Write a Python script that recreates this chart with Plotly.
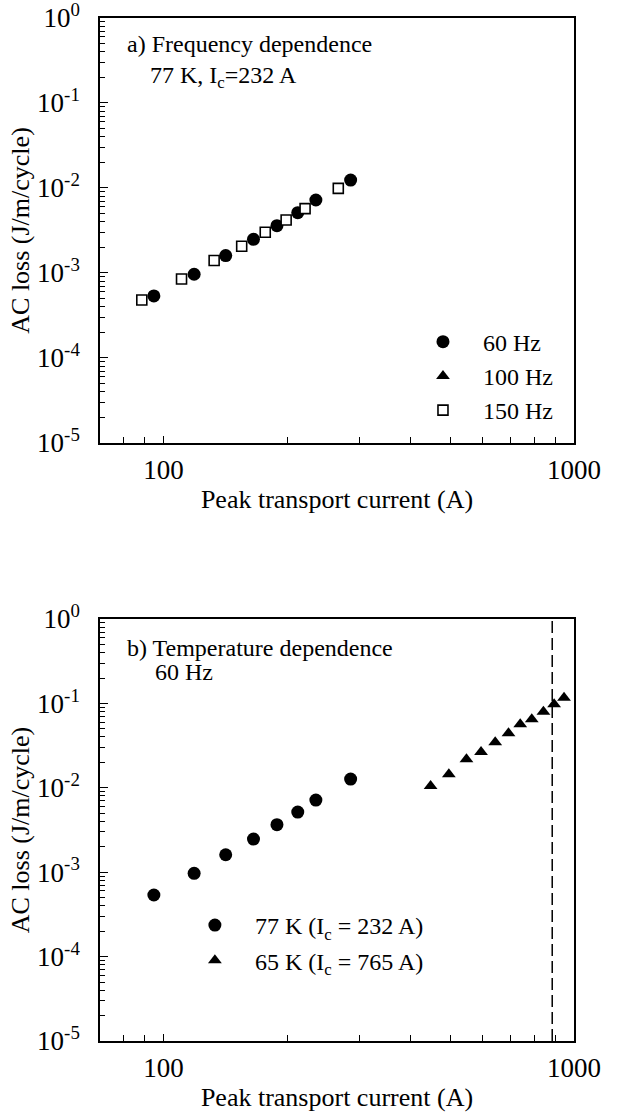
import math
import plotly.graph_objects as go

# ---------------- data ----------------
# (a) frequency dependence, 77 K
i_60hz = [94.7, 118.7, 141.7, 165.6, 188.9, 212.3, 235.0, 285.6]
loss_60hz = [5.37e-4, 9.66e-4, 1.60e-3, 2.49e-3, 3.60e-3, 5.12e-3, 7.22e-3, 1.24e-2]
i_100hz = [None]        # 100 Hz points are not visible in the panel (legend entry only)
loss_100hz = [None]
i_150hz = [88.5, 110.6, 132.8, 155.0, 176.9, 198.9, 221.2, 266.5]
loss_150hz = [4.81e-4, 8.50e-4, 1.40e-3, 2.06e-3, 3.01e-3, 4.20e-3, 5.71e-3, 9.90e-3]

# (b) temperature dependence, 60 Hz
i_77k = [94.7, 118.7, 141.7, 165.6, 188.9, 212.3, 235.0, 285.6]
loss_77k = [5.37e-4, 9.70e-4, 1.61e-3, 2.47e-3, 3.66e-3, 5.16e-3, 7.16e-3, 1.27e-2]
i_65k = [447.3, 495.5, 547.0, 593.6, 642.7, 692.5, 739.6, 789.0, 842.4, 894.4, 945.6]
loss_65k = [1.05e-2, 1.445e-2, 2.18e-2, 2.66e-2, 3.46e-2, 4.42e-2, 5.65e-2, 6.48e-2, 7.98e-2, 9.75e-2, 0.117]
dashed_line_current = 885

x_tickvals = [100, 1000]
x_ticktext = ["100", "1000"]
x_minor = [80, 90, 200, 300, 400, 500, 600, 700, 800, 900]
y_tickvals = [1e-5, 1e-4, 1e-3, 1e-2, 1e-1, 1]
y_ticktext = ["10<sup>-5</sup>", "10<sup>-4</sup>", "10<sup>-3</sup>", "10<sup>-2</sup>", "10<sup>-1</sup>", "10<sup>0</sup>"]
y_minor = [m * 10.0 ** e for e in range(-5, 0) for m in range(2, 10)]

FONT = "Liberation Serif"
BLACK = "black"

fig = go.Figure()

circle = dict(symbol="circle", size=13, color=BLACK)
tri = dict(symbol="triangle-up", size=12, color=BLACK)
square = dict(symbol="square", size=10, color="white", line=dict(color=BLACK, width=1.6))

fig.add_trace(go.Scatter(x=i_60hz, y=loss_60hz, mode="markers", marker=circle, name="60 Hz",
                         xaxis="x", yaxis="y", legend="legend"))
fig.add_trace(go.Scatter(x=i_100hz, y=loss_100hz, mode="markers", marker=tri, name="100 Hz",
                         xaxis="x", yaxis="y", legend="legend"))
fig.add_trace(go.Scatter(x=i_150hz, y=loss_150hz, mode="markers", marker=square, name="150 Hz",
                         xaxis="x", yaxis="y", legend="legend"))

fig.add_trace(go.Scatter(x=i_77k, y=loss_77k, mode="markers", marker=circle,
                         name="77 K (I<sub>c</sub> = 232 A)", legendgroup="g1",
                         xaxis="x2", yaxis="y2", legend="legend2"))
fig.add_trace(go.Scatter(x=i_65k, y=loss_65k, mode="markers", marker=tri,
                         name="65 K (I<sub>c</sub> = 765 A)", legendgroup="g2",
                         xaxis="x2", yaxis="y2", legend="legend2"))

xaxis_common = dict(
    type="log", range=[math.log10(70), 3], automargin=False, ticklabeloverflow="allow",
    showline=True, linecolor=BLACK, linewidth=1.5, mirror=True,
    ticks="inside", ticklen=7, tickwidth=1.3, tickcolor=BLACK,
    tickvals=x_tickvals, ticktext=x_ticktext,
    minor=dict(ticks="inside", ticklen=6, tickwidth=1.3, tickcolor=BLACK, tickvals=x_minor),
    showgrid=False, zeroline=False,
    tickfont=dict(family=FONT, size=27, color=BLACK),
    ticklabelstandoff=2,
    title=dict(text="Peak transport current (A)", font=dict(family=FONT, size=26, color=BLACK), standoff=6),
)
yaxis_common = dict(
    type="log", range=[-5, 0], automargin=False, ticklabeloverflow="allow",
    showline=True, linecolor=BLACK, linewidth=1.5, mirror=True,
    ticks="inside", ticklen=8, tickwidth=1.3, tickcolor=BLACK,
    tickvals=y_tickvals, ticktext=y_ticktext,
    minor=dict(ticks="inside", ticklen=5, tickwidth=1.1, tickcolor=BLACK, tickvals=y_minor),
    showgrid=False, zeroline=False,
    tickfont=dict(family=FONT, size=27, color=BLACK),
    ticklabelstandoff=13,
    title=dict(text="AC loss (J/m/cycle)", font=dict(family=FONT, size=26, color=BLACK), standoff=0),
)

fig.update_layout(
    width=618, height=1115,
    margin=dict(l=100, r=44, t=18, b=74),
    paper_bgcolor="white", plot_bgcolor="white",
    font=dict(family=FONT, size=24, color=BLACK),
    xaxis=dict(**xaxis_common, domain=[0, 1], anchor="y"),
    yaxis=dict(**yaxis_common, domain=[0.5846, 1], anchor="x"),
    xaxis2=dict(**xaxis_common, domain=[0, 1], anchor="y2"),
    yaxis2=dict(**yaxis_common, domain=[0, 0.4125], anchor="x2"),
    legend=dict(x=0.6392, y=0.7052, xanchor="left", yanchor="top", bgcolor="rgba(0,0,0,0)",
                font=dict(family=FONT, size=24, color=BLACK), itemwidth=70,
                tracegroupgap=0),
    legend2=dict(x=0.158, y=0.1349, xanchor="left", yanchor="top", bgcolor="rgba(0,0,0,0)",
                 font=dict(family=FONT, size=24, color=BLACK), itemwidth=70,
                 tracegroupgap=1),
    showlegend=True,
)

fig.add_shape(type="line", xref="x2", yref="y2 domain", x0=dashed_line_current, x1=dashed_line_current,
              y0=0, y1=1, line=dict(color=BLACK, width=1.5, dash="12px,5px"))

ann_font = dict(family=FONT, size=24, color=BLACK)
fig.add_annotation(text="a) Frequency dependence", xref="x domain", yref="y domain",
                   x=0.053, y=1 - 26 / 425, xanchor="left", yanchor="middle", showarrow=False, font=ann_font)
fig.add_annotation(text="77 K, I<sub>c</sub>=232 A", xref="x domain", yref="y domain",
                   x=0.101, y=1 - 59 / 425, xanchor="left", yanchor="middle", showarrow=False, font=ann_font)
fig.add_annotation(text="b) Temperature dependence", xref="x2 domain", yref="y2 domain",
                   x=0.053, y=1 - 29 / 422, xanchor="left", yanchor="middle", showarrow=False, font=ann_font)
fig.add_annotation(text="60 Hz", xref="x2 domain", yref="y2 domain",
                   x=0.112, y=1 - 53 / 422, xanchor="left", yanchor="middle", showarrow=False, font=ann_font)

fig.write_html("out.html")
